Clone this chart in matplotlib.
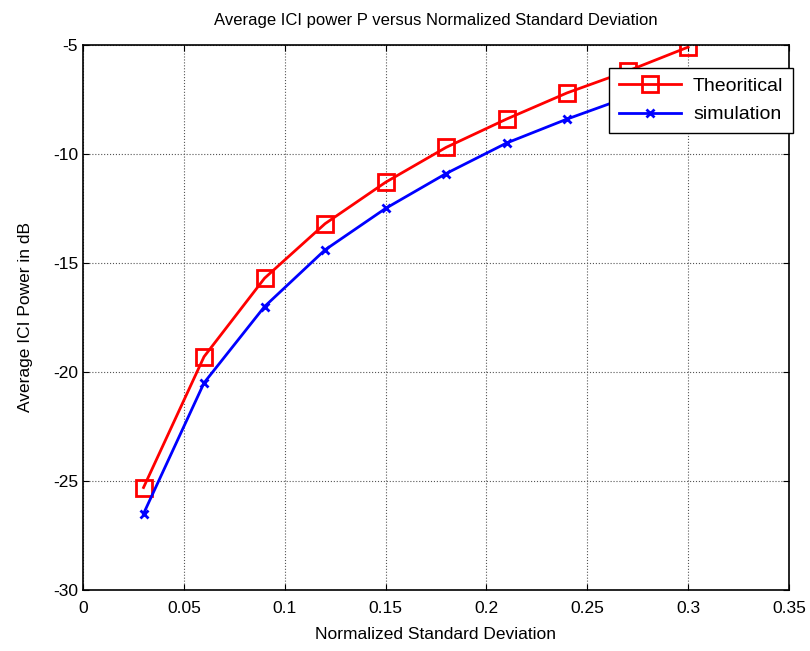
import matplotlib
matplotlib.use('Agg')
import matplotlib.pyplot as plt

plt.rcParams['font.family'] = ['Liberation Sans', 'DejaVu Sans']
plt.rcParams['axes.unicode_minus'] = False

# Normalized standard deviation
sigma = [0.03, 0.06, 0.09, 0.12, 0.15, 0.18, 0.21, 0.24, 0.27, 0.30]
# Average ICI power, dB
p_theory = [-25.3, -19.3, -15.7, -13.2, -11.3, -9.7, -8.4, -7.2, -6.2, -5.1]
p_sim = [-26.5, -20.5, -17.0, -14.4, -12.5, -10.9, -9.5, -8.4, -7.4, -6.4]

xticks = [0, 0.05, 0.1, 0.15, 0.2, 0.25, 0.3, 0.35]
xtick_labels = ['0', '0.05', '0.1', '0.15', '0.2', '0.25', '0.3', '0.35']
yticks = [-30, -25, -20, -15, -10, -5]

fig = plt.figure(figsize=(8.1, 6.51), dpi=100)

ax = fig.add_axes([0.1025, 0.0937, 0.8715, 0.8373])

ax.plot(sigma, p_theory, color='#ff0000', lw=2, marker='s', markersize=11,
        markerfacecolor='none', markeredgecolor='#ff0000', markeredgewidth=2,
        label='Theoritical')
ax.plot(sigma, p_sim, color='#0000ff', lw=2, marker='x', markersize=6,
        markeredgewidth=2, label='simulation')

ax.set_xlim(0, 0.35)
ax.set_ylim(-30, -5)
ax.set_xticks(xticks)
ax.set_xticklabels(xtick_labels)
ax.set_yticks(yticks)
ax.tick_params(direction='in', top=True, right=True, labelsize=12.5, length=4)
ax.tick_params(axis='x', pad=8)
ax.grid(True, color='#555555', linestyle=':', linewidth=0.8)
for s in ax.spines.values():
    s.set_linewidth(1.2)

ax.set_title('Average ICI power P versus Normalized Standard Deviation', fontsize=12, pad=14)
ax.set_xlabel('Normalized Standard Deviation', fontsize=12.5, labelpad=8)
ax.set_ylabel('Average ICI Power in dB', fontsize=12.5, labelpad=14)

leg = ax.legend(loc='upper right', bbox_to_anchor=(1.006, 0.958), fontsize=14,
                fancybox=False, edgecolor='black', framealpha=1, handlelength=3.2,
                handletextpad=0.6, borderpad=0.5, labelspacing=0.55, borderaxespad=0)
leg.get_frame().set_linewidth(1.0)

fig.savefig('out.png', dpi=100)
